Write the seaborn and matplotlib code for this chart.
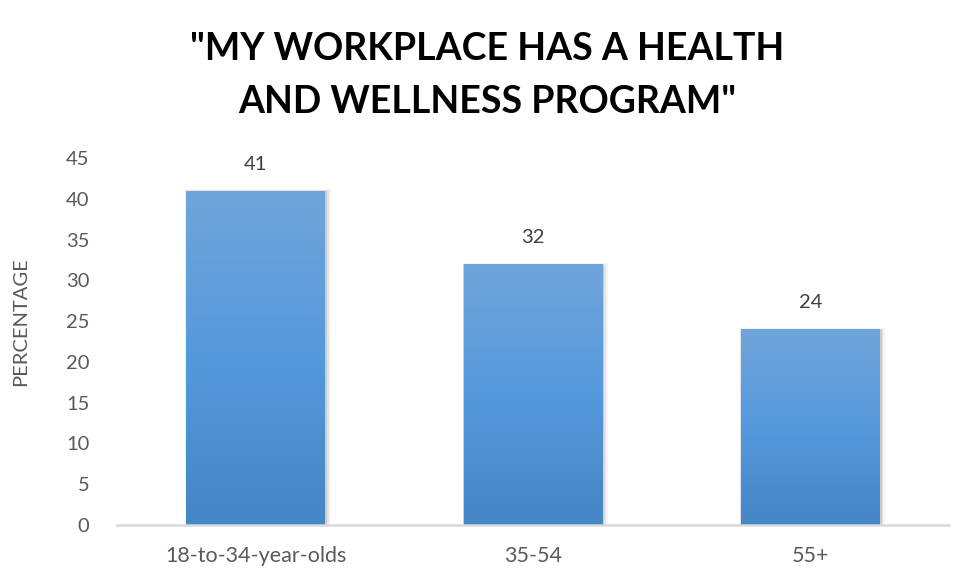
import numpy as np
import pandas as pd
import matplotlib
matplotlib.use("Agg")
import matplotlib.pyplot as plt
import seaborn as sns
from matplotlib.colors import LinearSegmentedColormap
from matplotlib.patches import Rectangle

categories = ["18-to-34-year-olds", "35-54", "55+"]
values = [41, 32, 24]
title_text = '"MY WORKPLACE HAS A HEALTH\nAND WELLNESS PROGRAM"'
y_label = "PERCENTAGE"
y_ticks = [0, 5, 10, 15, 20, 25, 30, 35, 40, 45]

sns.set_theme(style="white")
plt.rcParams['font.family'] = ['Lato', 'DejaVu Sans']

df = pd.DataFrame({"group": categories, "pct": values})

fig = plt.figure(figsize=(9.77, 5.86), dpi=100)
ax = fig.add_axes([0.1198, 0.1041, 0.9713 - 0.1198, 0.7304 - 0.1041])

sns.barplot(data=df, x="group", y="pct", ax=ax, color="#5499dc", width=0.5,
            saturation=1, edgecolor="none", zorder=2)

ax.set_xlim(-0.5, 2.5)
ax.set_ylim(0, 45)

# gradient fill + soft shadow
cmap = LinearSegmentedColormap.from_list("g", ["#4486c6", "#5599dd", "#70a5da"])
grad = np.linspace(0, 1, 256).reshape(-1, 1)
for p in list(ax.patches):
    x0, y0 = p.get_x(), p.get_y()
    w, h = p.get_width(), p.get_height()
    for i, a in enumerate([0.10, 0.07, 0.04]):
        dx = 0.004 * (i + 1)
        sh = Rectangle((x0 - dx * 0.3, y0), w + 2 * dx, h + 0.12 * (i + 1) - 0.2,
                       facecolor="#000000", alpha=a, edgecolor="none", zorder=1)
        ax.add_patch(sh)
    im = ax.imshow(grad, extent=[x0, x0 + w, y0, y0 + h], origin="lower",
                   cmap=cmap, aspect="auto", zorder=3)
    im.set_clip_path(p)
    ax.text(x0 + w / 2, y0 + h + 2.2, f"{int(h)}", ha="center", va="bottom",
            fontsize=14.5, color="#404040")

ax.set_aspect("auto")
ax.set_xlim(-0.5, 2.5)
ax.set_ylim(0, 45)

ax.set_yticks(y_ticks)
ax.set_yticklabels([str(t) for t in y_ticks])
ax.tick_params(axis="both", length=0, colors="#595959")
ax.tick_params(axis="y", pad=20, labelsize=14.5)
ax.tick_params(axis="x", pad=15, labelsize=15.5)
ax.set_xlabel("")
ax.set_ylabel(y_label, fontsize=14.5, color="#595959")
ax.yaxis.set_label_coords(-0.106, 0.553)

for s in ["left", "right", "top"]:
    ax.spines[s].set_visible(False)
ax.spines["bottom"].set_color("#d9d9d9")
ax.spines["bottom"].set_linewidth(1.8)
ax.spines["bottom"].set_zorder(4)
ax.grid(False)

fig.text(0.499, 0.945, title_text, ha="center", va="top", fontsize=27,
         fontweight="bold", color="#000000", linespacing=1.68)

fig.savefig("out.png", dpi=100, facecolor="white")
